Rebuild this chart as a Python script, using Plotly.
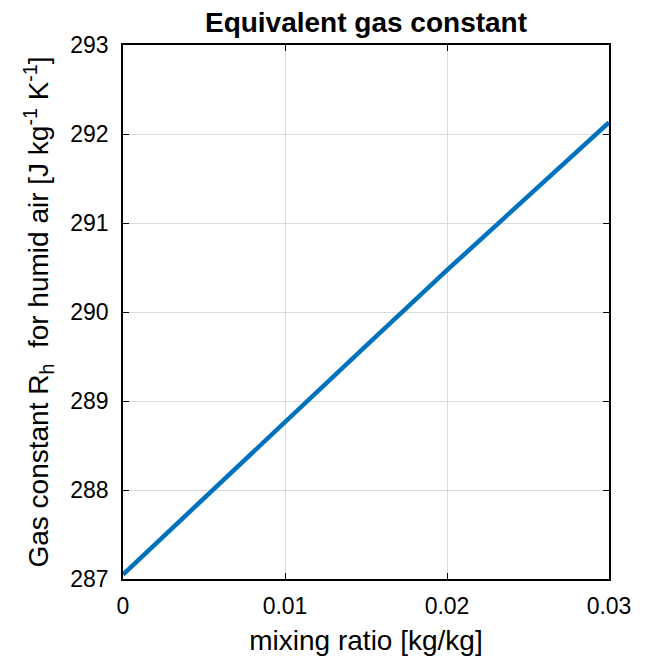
import plotly.graph_objects as go

mixing_ratio = [0.0, 0.005, 0.01, 0.015, 0.02, 0.025, 0.03]
gas_constant = [287.05, 287.91, 288.77, 289.62, 290.47, 291.30, 292.13]

x_ticks = [0, 0.01, 0.02, 0.03]
x_tick_labels = ["0", "0.01", "0.02", "0.03"]
y_ticks = [287, 288, 289, 290, 291, 292, 293]

fig = go.Figure()
fig.add_trace(go.Scatter(x=mixing_ratio, y=gas_constant, mode="lines",
                         line=dict(color="#0072BD", width=4.5), showlegend=False))

font = "Liberation Sans, Arial, sans-serif"
axis_common = dict(showline=True, linecolor="black", linewidth=1.5, mirror="ticks",
                   ticks="inside", ticklen=6, tickcolor="black", tickwidth=1.2,
                   showgrid=True, gridcolor="#dadada", gridwidth=1, zeroline=False,
                   tickfont=dict(family=font, size=23, color="black"))

fig.update_layout(
    width=649, height=664,
    margin=dict(l=123, r=40, t=45, b=85),
    paper_bgcolor="white", plot_bgcolor="white",
    title=dict(text="<b>Equivalent gas constant</b>", x=(123 + 609) / 2 / 649, xanchor="center",
               y=1 - 22 / 664, yanchor="middle",
               font=dict(family=font, size=28, color="black")),
    xaxis=dict(range=[0, 0.03], tickvals=x_ticks, ticktext=x_tick_labels,
               ticklabelstandoff=6,
               title=dict(text="mixing ratio [kg/kg]", standoff=12,
                          font=dict(family=font, size=28, color="black")),
               **axis_common),
    yaxis=dict(range=[287, 293], tickvals=y_ticks, ticklabelstandoff=8,
               title=dict(text="Gas constant R<sub>h</sub>  for humid air [J kg<sup>-1</sup> K<sup>-1</sup>]",
                          standoff=13, font=dict(family=font, size=28, color="black")),
               **axis_common),
)

fig.write_html("out.html")
